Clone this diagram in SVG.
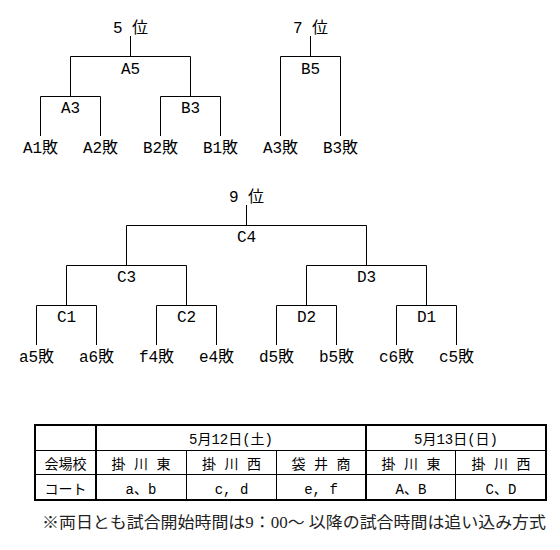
<svg xmlns="http://www.w3.org/2000/svg" width="560" height="550" viewBox="0 0 560 550">
<style>
text{font-family:"Liberation Mono","Noto Sans CJK JP",monospace;fill:#000;text-anchor:middle}
.t{font-size:16px}
.tb{font-size:14px}
.note{font-family:"Liberation Serif","Noto Sans CJK JP",serif;font-size:16px;text-anchor:start;fill:#222}
.ln{stroke:#000;stroke-width:1;fill:none}
.thick{stroke:#000;stroke-width:2;fill:none}
</style>
<rect width="560" height="550" fill="#fff"/>
<g id="connectors">
<path class="ln" d="M130.5,36V56.5M70.5,96.5V56.5H190.5V96.5M40.5,136V96.5H100.5V136M160.5,136V96.5H220.5V136"/>
<path class="ln" d="M310.5,36V56.5M280.5,136V56.5H340.5V136"/>
<path class="ln" d="M246.5,205V225.5M126.5,265.5V225.5H366.5V265.5M66.5,305.5V265.5H186.5V305.5M306.5,305.5V265.5H426.5V305.5M36.5,345V305.5H96.5V345M156.5,345V305.5H216.5V345M276.5,345V305.5H336.5V345M396.5,345V305.5H456.5V345"/>
</g>
<g id="rank5"><text class="t" x="130.5" y="33">5 位</text></g>
<g id="A5"><text class="t" x="130.5" y="74">A5</text></g>
<g id="A3"><text class="t" x="70.5" y="113">A3</text></g>
<g id="B3"><text class="t" x="190.5" y="113">B3</text></g>
<g id="A1L"><text class="t" x="40.5" y="153">A1敗</text></g>
<g id="A2L"><text class="t" x="100.5" y="153">A2敗</text></g>
<g id="B2L"><text class="t" x="160.5" y="153">B2敗</text></g>
<g id="B1L"><text class="t" x="220.5" y="153">B1敗</text></g>
<g id="rank7"><text class="t" x="310.5" y="33">7 位</text></g>
<g id="B5"><text class="t" x="310.5" y="74">B5</text></g>
<g id="A3L"><text class="t" x="280.5" y="153">A3敗</text></g>
<g id="B3L"><text class="t" x="340.5" y="153">B3敗</text></g>
<g id="rank9"><text class="t" x="246.5" y="202">9 位</text></g>
<g id="C4"><text class="t" x="246.5" y="242">C4</text></g>
<g id="C3"><text class="t" x="126.5" y="282">C3</text></g>
<g id="D3"><text class="t" x="366.5" y="282">D3</text></g>
<g id="C1"><text class="t" x="66.5" y="322">C1</text></g>
<g id="C2"><text class="t" x="186.5" y="322">C2</text></g>
<g id="D2"><text class="t" x="306.5" y="322">D2</text></g>
<g id="D1"><text class="t" x="426.5" y="322">D1</text></g>
<g id="a5L"><text class="t" x="36.5" y="362">a5敗</text></g>
<g id="a6L"><text class="t" x="96.5" y="362">a6敗</text></g>
<g id="f4L"><text class="t" x="156.5" y="362">f4敗</text></g>
<g id="e4L"><text class="t" x="216.5" y="362">e4敗</text></g>
<g id="d5L"><text class="t" x="276.5" y="362">d5敗</text></g>
<g id="b5L"><text class="t" x="336.5" y="362">b5敗</text></g>
<g id="c6L"><text class="t" x="396.5" y="362">c6敗</text></g>
<g id="c5L"><text class="t" x="456.5" y="362">c5敗</text></g>
<g id="table">
<rect class="thick" x="35" y="425" width="511" height="75"/>
<path class="ln" d="M35,450.5H546M35,474.5H546M186.5,451V500M276.5,451V500M455.5,451V500"/>
<path class="thick" d="M96,425V500M366,425V500"/>
<text class="tb" x="231" y="444">5月12日(土)</text>
<text class="tb" x="456" y="444">5月13日(日)</text>
<text class="tb" x="65.5" y="469">会場校</text>
<text class="tb" x="141" y="469">掛 川 東</text>
<text class="tb" x="231.5" y="469">掛 川 西</text>
<text class="tb" x="321" y="469">袋 井 商</text>
<text class="tb" x="411" y="469">掛 川 東</text>
<text class="tb" x="501" y="469">掛 川 西</text>
<text class="tb" x="65.5" y="494">コート</text>
<text class="tb" x="141" y="494">a、b</text>
<text class="tb" x="231.5" y="494">c, d</text>
<text class="tb" x="321" y="494">e, f</text>
<text class="tb" x="411" y="494">A、B</text>
<text class="tb" x="501" y="494">C、D</text>
</g>
<g id="note"><text class="note" x="42" y="528" textLength="504" lengthAdjust="spacingAndGlyphs">※両日とも試合開始時間は9：00～ 以降の試合時間は追い込み方式</text></g>
</svg>
